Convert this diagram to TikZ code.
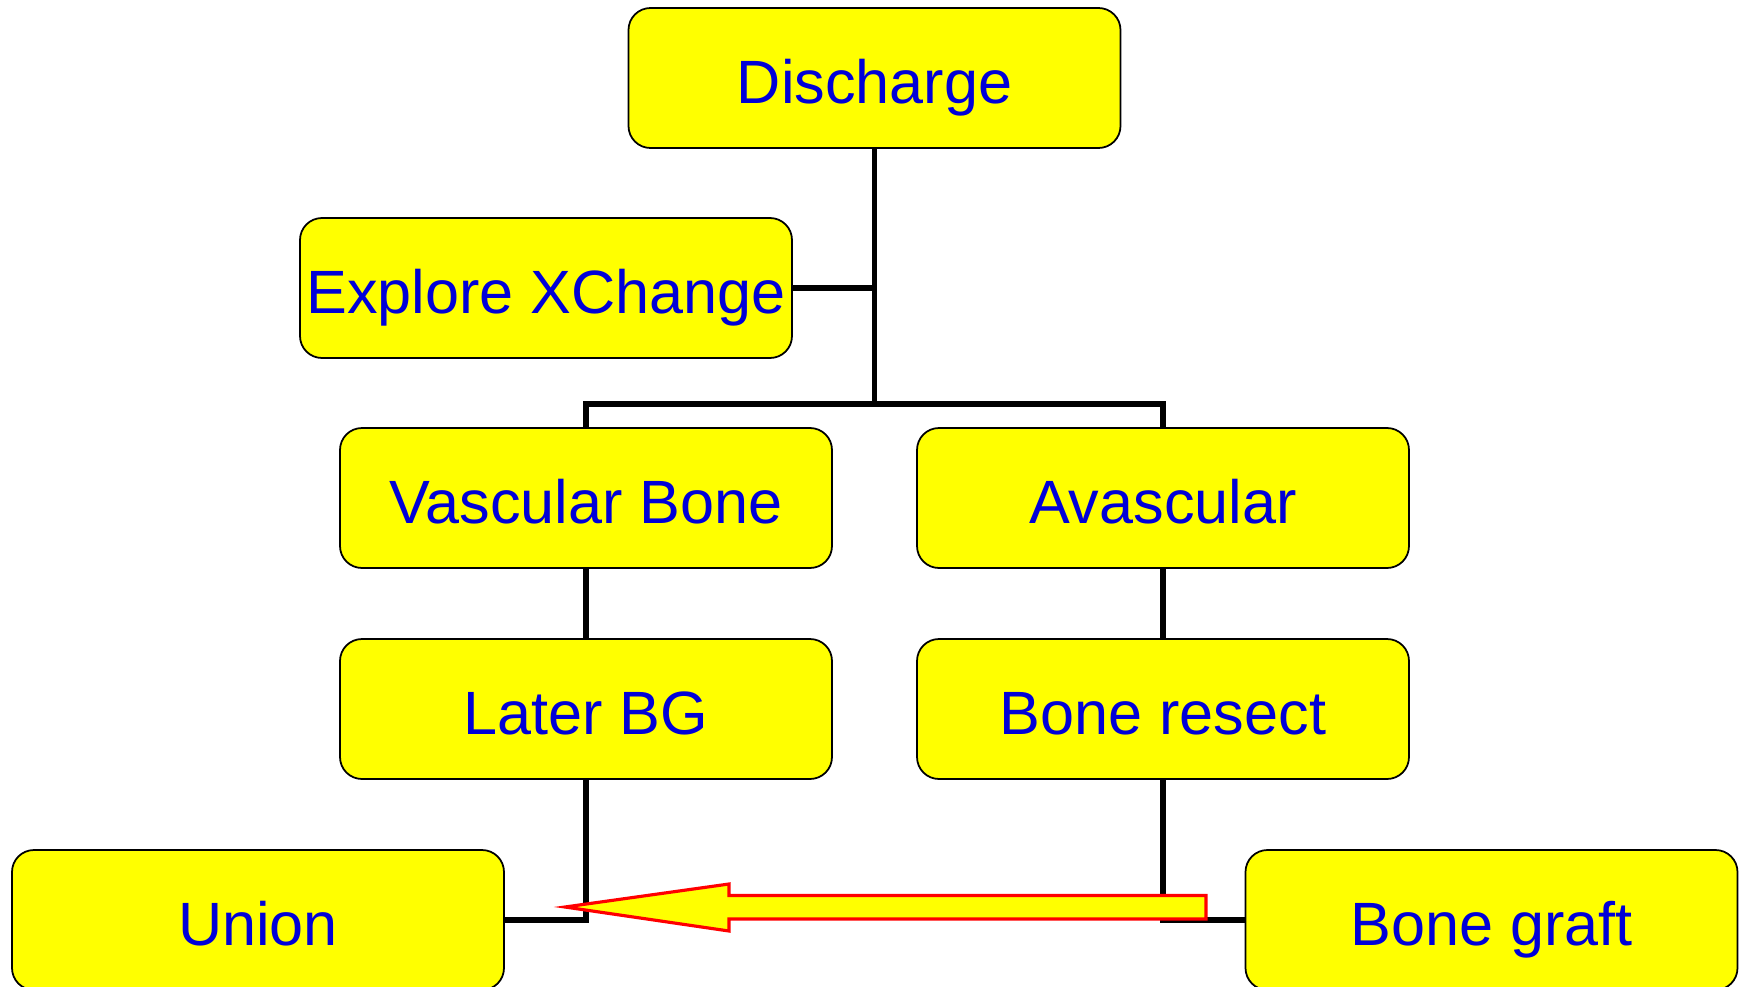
\documentclass[tikz,border=0pt]{standalone}
\usepackage{fontspec}
\setmainfont{Liberation Sans}
\usetikzlibrary{arrows.meta, positioning}
\definecolor{cyellow}{HTML}{FFFF00}
\definecolor{cblue}{HTML}{0000D8}
\definecolor{cred}{HTML}{FF0000}
\tikzset{
  every picture/.style={line width=1.6pt},
  box/.style={draw=black, line width=0.5pt, fill=cyellow, rounded corners=2.2mm, minimum width=4.92cm, minimum height=1.4cm,
    inner sep=0pt, text height=6.5mm, text depth=1.38mm, text=cblue, font=\fontsize{17.4}{20}\selectfont},
  link/.style={draw=black, line width=1.6pt},
  bigarrow/.style={draw=cred, fill=cyellow, line width=0.9pt, line join=miter},
}

\begin{document}
\begin{tikzpicture}
  \useasboundingbox (0,0) rectangle (17.4,-9.87);
  % boxes
  \node[box] (discharge) at (8.745,-0.78) {Discharge};
  \node[box] (explore) at (5.46,-2.88) {Explore XChange};
  \node[box] (vascular) at (5.86,-4.98) {Vascular Bone};
  \node[box] (avascular) at (11.63,-4.98) {Avascular};
  \node[box] (later) at (5.86,-7.09) {Later BG};
  \node[box] (resect) at (11.63,-7.09) {Bone resect};
  \node[box] (union) at (2.58,-9.2) {Union};
  \node[box] (graft) at (14.915,-9.2) {Bone graft};
  % connectors
  \coordinate (fork) at (discharge.south |- 0,-4.04);
  \draw[link] (discharge.south) -- (fork);
  \draw[link] (explore.east) -- (explore.east -| fork);
  \draw[link] (vascular.north) |- (fork) -| (avascular.north);
  \draw[link] (vascular.south) -- (later.north);
  \draw[link] (avascular.south) -- (resect.north);
  \draw[link] (later.south) |- (union.east);
  \draw[link] (resect.south) |- (graft.east -| graft.west);
  % block arrow
  \draw[bigarrow] (12.06,-8.955) -- (7.29,-8.955) -- (7.29,-8.84) -- (5.65,-9.07)
    -- (7.29,-9.31) -- (7.29,-9.19) -- (12.06,-9.19) -- cycle;
\end{tikzpicture}
\end{document}
